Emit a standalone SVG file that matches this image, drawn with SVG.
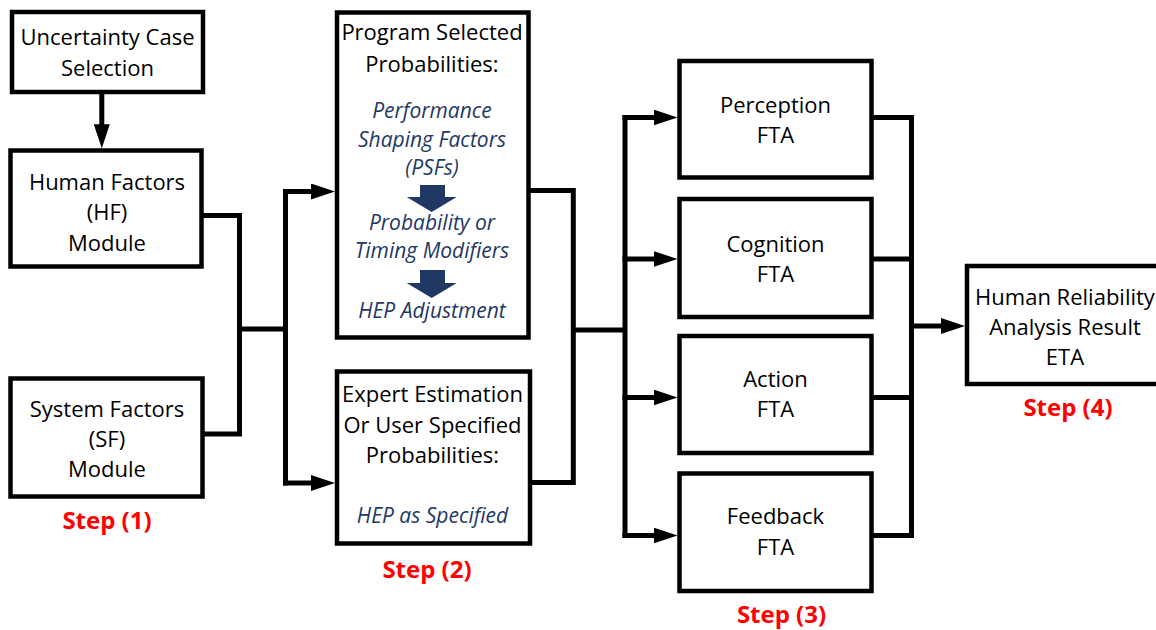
<svg xmlns="http://www.w3.org/2000/svg" width="1156" height="630" viewBox="0 0 1156 630">
  <defs>
    <marker id="arrow" markerUnits="userSpaceOnUse" markerWidth="24" markerHeight="16" refX="2" refY="8" orient="auto">
      <path d="M0,0 L24,8 L0,16 z" fill="#000"/>
    </marker>
    <style>
      .box { fill: #fff; stroke: #000; stroke-width: 4.5; }
      .wire { fill: none; stroke: #000; stroke-width: 5; stroke-linejoin: miter; }
      .arr { fill: none; stroke: #000; stroke-width: 5; marker-end: url(#arrow); }
      .lbl { font-family: "Open Sans", "Liberation Sans", sans-serif; font-size: 22px; fill: #000; text-anchor: middle; }
      .note { font-family: "Open Sans", "Liberation Sans", sans-serif; font-size: 21px; font-style: italic; fill: #1F3864; text-anchor: middle; }
      .step { font-family: "Open Sans", "Liberation Sans", sans-serif; font-size: 24px; font-weight: bold; fill: #FF0000; text-anchor: middle; }
      .blk { fill: #1F3864; }
    </style>
  </defs>
  <rect width="1156" height="630" fill="#fff"/>

  <!-- connectors -->
  <g id="connectors">
    <line class="arr" x1="101.8" y1="94" x2="101.8" y2="126.3"/>
    <path class="wire" d="M201.5,215.5 H239.5 V434 H202.5"/>
    <path class="wire" d="M239.5,329 H285.5"/>
    <path class="wire" d="M285.5,189 V485.5"/>
    <line class="arr" x1="283" y1="191.5" x2="313" y2="191.5"/>
    <line class="arr" x1="283" y1="483" x2="313" y2="483"/>

    <path class="wire" d="M528.7,190.5 H573.3 V482.5 H530.3"/>
    <path class="wire" d="M573.3,330 H625"/>
    <path class="wire" d="M625,115 V538"/>
    <line class="arr" x1="622.5" y1="117.5" x2="655.5" y2="117.5"/>
    <line class="arr" x1="622.5" y1="259" x2="655.5" y2="259"/>
    <line class="arr" x1="622.5" y1="397.5" x2="655.5" y2="397.5"/>
    <line class="arr" x1="622.5" y1="535.5" x2="655.5" y2="535.5"/>

    <path class="wire" d="M871.7,117.5 H911.5 V535.5 H871.7"/>
    <path class="wire" d="M871.7,259 H911.5"/>
    <path class="wire" d="M871.7,397.5 H911.5"/>
    <line class="arr" x1="909" y1="326" x2="943" y2="326"/>
  </g>

  <!-- step 1 -->
  <g id="uncertainty-case">
    <rect class="box" x="12" y="12" width="191" height="80"/>
    <text class="lbl" x="107.5" y="44.5">Uncertainty Case</text>
    <text class="lbl" x="107.5" y="76">Selection</text>
  </g>
  <g id="human-factors">
    <rect class="box" x="10.5" y="150.5" width="191" height="116"/>
    <text class="lbl" x="107" y="190">Human Factors</text>
    <text class="lbl" x="107" y="220">(HF)</text>
    <text class="lbl" x="107" y="250.5">Module</text>
  </g>
  <g id="system-factors">
    <rect class="box" x="10.5" y="378.5" width="192" height="118"/>
    <text class="lbl" x="107" y="416.5">System Factors</text>
    <text class="lbl" x="107" y="446.5">(SF)</text>
    <text class="lbl" x="107" y="476.5">Module</text>
  </g>
  <text class="step" x="107" y="529">Step (1)</text>

  <!-- step 2 -->
  <g id="program-selected">
    <rect class="box" x="337" y="12.5" width="191.5" height="325"/>
    <text class="lbl" x="432" y="40">Program Selected</text>
    <text class="lbl" x="432" y="71.7">Probabilities:</text>
    <text class="note" x="432" y="118.3">Performance</text>
    <text class="note" x="432" y="146.7">Shaping Factors</text>
    <text class="note" x="432" y="175">(PSFs)</text>
    <polygon class="blk" points="420,185 445,185 445,197 456.7,197 431.7,212 406.7,197 420,197"/>
    <text class="note" x="432" y="230">Probability or</text>
    <text class="note" x="432" y="258.3">Timing Modifiers</text>
    <polygon class="blk" points="420,270 445,270 445,283 456.7,283 431.7,298 406.7,283 420,283"/>
    <text class="note" x="432" y="318">HEP Adjustment</text>
  </g>
  <g id="expert-estimation">
    <rect class="box" x="337" y="371.5" width="193" height="172"/>
    <text class="lbl" x="432.5" y="402.3">Expert Estimation</text>
    <text class="lbl" x="432.5" y="432.7">Or User Specified</text>
    <text class="lbl" x="432.5" y="463.3">Probabilities:</text>
    <text class="note" x="432.5" y="522.7">HEP as Specified</text>
  </g>
  <text class="step" x="427" y="578">Step (2)</text>

  <!-- step 3 -->
  <g id="perception-fta">
    <rect class="box" x="679.5" y="61" width="192" height="116.5"/>
    <text class="lbl" x="775.5" y="113.3">Perception</text>
    <text class="lbl" x="775.5" y="143.3">FTA</text>
  </g>
  <g id="cognition-fta">
    <rect class="box" x="679.5" y="199" width="192" height="118"/>
    <text class="lbl" x="775.5" y="251.7">Cognition</text>
    <text class="lbl" x="775.5" y="281.7">FTA</text>
  </g>
  <g id="action-fta">
    <rect class="box" x="679.5" y="336" width="192" height="117"/>
    <text class="lbl" x="775.5" y="386.7">Action</text>
    <text class="lbl" x="775.5" y="416.7">FTA</text>
  </g>
  <g id="feedback-fta">
    <rect class="box" x="679.5" y="473.5" width="192" height="117.5"/>
    <text class="lbl" x="775.5" y="524">Feedback</text>
    <text class="lbl" x="775.5" y="555">FTA</text>
  </g>
  <text class="step" x="781.5" y="623">Step (3)</text>

  <!-- step 4 -->
  <g id="hra-result">
    <rect class="box" x="967" y="266" width="195" height="118"/>
    <text class="lbl" x="1065" y="305">Human Reliability</text>
    <text class="lbl" x="1065" y="335">Analysis Result</text>
    <text class="lbl" x="1065" y="365">ETA</text>
  </g>
  <text class="step" x="1068" y="416">Step (4)</text>
</svg>
